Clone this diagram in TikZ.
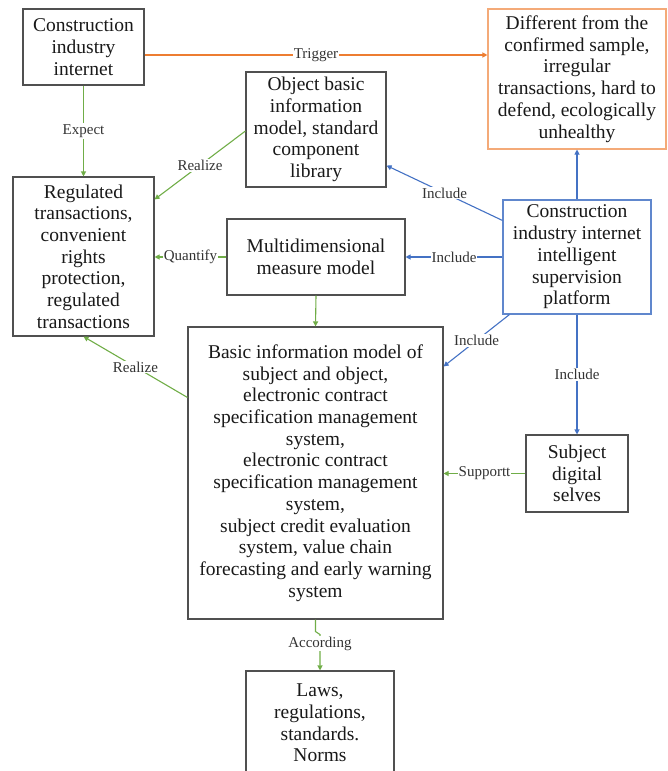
\documentclass[tikz,border=0pt]{standalone}
\usepackage{fontspec}
\setmainfont{Liberation Serif}
\usetikzlibrary{arrows.meta}
\definecolor{linegreen}{RGB}{112,173,71}
\definecolor{lineblue}{RGB}{68,114,196}
\definecolor{lineorange}{RGB}{237,125,49}
\definecolor{boxorange}{RGB}{244,170,120}
\definecolor{boxgray}{RGB}{80,80,80}
\tikzset{
  box/.style={draw=boxgray, line width=1.1pt, fill=white, inner sep=0pt,
    align=center, font=\fontsize{19.5}{21.7}\selectfont, text=black!90},
  lab/.style={fill=white, inner sep=1pt, font=\fontsize{15}{17}\selectfont, text=black!80},
  tip/.style={-{Triangle[length=5pt,width=5pt]}},
  gline/.style={tip, draw=linegreen, line width=1.1pt},
  bline/.style={tip, draw=lineblue, line width=1.1pt},
  oline/.style={tip, draw=lineorange, line width=1.1pt},
}
\begin{document}
\begin{tikzpicture}[x=1pt,y=1pt]
\useasboundingbox (0,0) rectangle (667,-771);
\clip (0,0) rectangle (667,-771);

% boxes
\node[box, minimum width=121, minimum height=76] (cii) at (83.5,-47)
  {Construction\\industry\\internet};
\node[box, minimum width=140, minimum height=115] (obj) at (316,-129.5)
  {Object basic\\information\\model, standard\\component\\library};
\node[box, draw=boxorange, minimum width=178, minimum height=140] (diff) at (577,-79)
  {Different from the\\confirmed sample,\\irregular\\transactions, hard to\\defend, ecologically\\unhealthy};
\node[box, minimum width=141, minimum height=159] (reg) at (83.5,-256.5)
  {Regulated\\transactions,\\convenient\\rights\\protection,\\regulated\\transactions};
\node[box, minimum width=178, minimum height=76] (multi) at (316,-257)
  {Multidimensional\\measure model};
\node[box, draw=lineblue!85, minimum width=148, minimum height=114] (plat) at (577,-257)
  {Construction\\industry internet\\intelligent\\supervision\\platform};
\node[box, minimum width=255, minimum height=292] (basic) at (315.5,-473)
  {Basic information model of\\subject and object,\\electronic contract\\specification management\\system,\\electronic contract\\specification management\\system,\\subject credit evaluation\\system, value chain\\forecasting and early warning\\system};
\node[box, minimum width=102, minimum height=77] (subj) at (577,-473.5)
  {Subject\\digital\\selves};
\node[box, minimum width=148, minimum height=104] (laws) at (320,-723)
  {Laws,\\regulations,\\standards.\\Norms};

% connectors
\draw[oline] ([yshift=-8]cii.east) -- ([yshift=-8]cii.east -| diff.west)
  node[lab, midway] {Trigger};
\draw[gline] (cii.south) -- (reg.north) node[lab, midway] {Expect};
\draw[gline] ([yshift=-1.5]obj.west) -- ([yshift=-23]reg.north east)
  node[lab, midway] {Realize};
\draw[bline] ([yshift=-21]plat.north west) -- ([yshift=22]obj.south east)
  node[lab, midway] {Include};
\draw[bline] (plat.north) -- (diff.south);
\draw[bline] (plat.west) -- (multi.east) node[lab, midway] {Include};
\draw[bline] ([xshift=7]plat.south west) -- ([yshift=-40]basic.north east)
  node[lab, midway] {Include};
\draw[bline] (plat.south) -- (subj.north) node[lab, midway] {Include};
\draw[gline] (multi.south) -- (basic.north);
\draw[gline] (multi.west) -- (multi.west -| reg.east) node[lab, midway] {Quantify};
\draw[gline] ([yshift=-71]basic.north west) -- (reg.south)
  node[lab, midway] {Realize};
\draw[gline] (subj.west) -- (subj.west -| basic.east) node[lab, midway] {Supportt};
\draw[gline] (basic.south) -- ++(0,-12) -- ++(4.5,-3)
  -- node[lab, pos=0.25] {According} (laws.north);
\end{tikzpicture}
\end{document}
